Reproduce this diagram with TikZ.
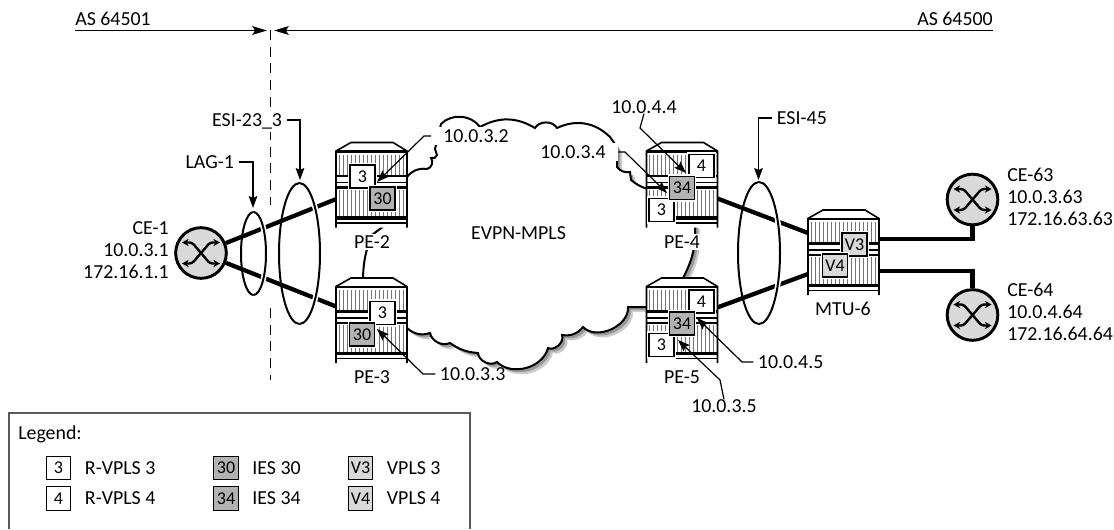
\documentclass[tikz,border=0pt]{standalone}
\usepackage{fontspec}
\setmainfont{Carlito}
\usepackage{tikz}
\usetikzlibrary{arrows.meta, positioning, calc, shapes.geometric}
\usepackage{xcolor}

\definecolor{iesgray}{gray}{0.70}
\definecolor{vplsgray}{gray}{0.85}

\tikzset{
  lbl/.style={font=\fontsize{14.9}{16.5}\selectfont, inner sep=0pt, text height=9.6pt, text depth=0pt},
  addr/.style={lbl, outer xsep=3.5pt},
  lblwhite/.style={lbl, fill=white, inner xsep=9pt, inner ysep=2pt},
  stack/.style={font=\fontsize{14.9}{16.5}\selectfont, inner sep=0pt},
  svcbox/.style={draw=black, line width=1.2pt, minimum width=18.5pt, minimum height=17.5pt, inner sep=0pt,
    font=\fontsize{13.5}{14}\selectfont, preaction={draw=white, line width=3pt}},
  keybox/.style={draw=black, line width=0.8pt, minimum width=18.5pt, minimum height=17.5pt, inner sep=0pt,
    font=\fontsize{13.5}{14}\selectfont},
  rvpls/.style={fill=white},
  ies/.style={fill=iesgray},
  vpls/.style={fill=vplsgray},
  link/.style={line width=3.2pt},
  leader/.style={line width=0.9pt, -{Stealth[length=9pt, width=6.5pt, inset=1.5pt]}},
  asline/.style={line width=1pt, -{Stealth[length=11pt, width=6.5pt, inset=2pt]}},
  ring/.style={ellipse, draw=black, line width=1.5pt, inner sep=0pt, outer sep=0pt},
  chassisbox/.style={rectangle, minimum width=53.25pt, minimum height=63.75pt, inner sep=0pt, outer sep=0pt},
  ce/.style={circle, draw=black, fill=vplsgray, line width=2.2pt, minimum size=38pt, inner sep=0pt},
  chassis/.pic={
    % local origin is the top left corner of the roof
    \fill[white] (0,8.5) -- (15,0) -- (57,0) -- (71,8.5) -- (71,85) -- (0,85) -- cycle;
    \foreach \hx in {3,7,...,69}
      \draw[black!55, line width=0.6pt] (\hx,12) -- (\hx,75);
    \fill[white] (0,32) rectangle (71,47);
    \draw[line width=1.2pt] (0,85) -- (0,8.5) -- (15,0) -- (57,0) -- (71,8.5) -- (71,85);
    \draw[line width=1.6pt] (0,9) -- (71,9);
    \draw[line width=2.2pt] (0,33.5) -- (71,33.5);
    \draw[line width=1.1pt] (0,40) -- (71,40);
    \draw[line width=1.8pt] (0,45) -- (71,45);
    \draw[line width=2.4pt] (0,75.5) -- (71,75.5);
    \draw[line width=1.1pt] (0,80.5) -- (71,80.5);
  },
  crossing/.pic={
    \draw[line width=1.8pt, rounded corners=2pt, {Stealth[length=5pt, width=5.5pt]}-{Stealth[length=5pt, width=5.5pt]}]
      (-19,-10.5) -- (-9,-10.5) -- (9,10.5) -- (19,10.5);
    \draw[line width=1.8pt, rounded corners=2pt, {Stealth[length=5pt, width=5.5pt]}-{Stealth[length=5pt, width=5.5pt]}]
      (-19,10.5) -- (-9,10.5) -- (9,-10.5) -- (19,-10.5);
  }
}

\newcommand{\cloudline}{
  (400,180) -- (407,177) to[bend left=30] (427,169) to[bend right=60] (431,158)
  to[bend right=50] (437,155) -- (435,149) -- (441,124)
  to[bend left=50] (480,127) to[bend left=30] (535,128) to[bend left=60] (557,128)
  to[bend left=35] (610,137) -- (617,147) -- (617,167) to[bend right=30] (630,172)
  -- (631,180) to[bend right=20] (660,190) -- (695,225)
  to[bend left=15] (683,278) -- (683,290) -- (647,307) -- (628,307)
  to[bend left=70] (583,327) to[bend left=30] (562,335) to[bend left=70] (548,348)
  to[bend left=60] (497,362) to[bend left=60] (478,353) to[bend left=15] (450,343)
  to[bend left=50] (430,333) to[bend left=30] (407,328) -- (395,320) -- (363,285)
  -- (363,278) to[bend left=10] (372,235) -- (385,225) -- cycle
}

\begin{document}
\begin{tikzpicture}[x=0.75pt, y=-0.75pt]
  \useasboundingbox (0,0) rectangle (1114,529);

  % Cloud
  \fill[black!20, shift={(5,5)}] \cloudline;
  \fill[black!40, shift={(3,3)}] \cloudline;
  \draw[fill=white, line width=1.5pt] \cloudline;
  \node[lbl] (evpn) at (518.5,233) {EVPN-MPLS};

  % AS border
  \coordinate (bordertop) at (270,30);
  \coordinate (bordermid) at (270,205);
  \coordinate (borderlow) at (270,308);
  \coordinate (borderend) at (270,380);
  \draw[line width=0.7pt, dash pattern=on 7.5pt off 5pt] (bordertop) -- (bordermid);
  \draw[line width=0.7pt, dash pattern=on 7.5pt off 5pt] (borderlow) -- (borderend);
  \node[lbl, anchor=west] (as501) at (75,19) {AS 64501};
  \node[lbl, anchor=east] (as500) at (993,19) {AS 64500};
  \coordinate (asleft) at (75,30.5);
  \coordinate (asright) at (993,30.5);
  \coordinate (astipl) at (267,30.5);
  \coordinate (astipr) at (274,30.5);
  \draw[asline] (asleft) -- (astipl);
  \draw[asline] (asright) -- (astipr);

  % Chassis
  \foreach \nm/\xx/\yy in {PE2/336/142.5, PE3/336/278, PE4/646.5/142.5, PE5/646.5/278, MTU6/808/210} {
    \node[chassisbox] (\nm) at (\xx+35.5,\yy+42.5) {};
  }

  % CE routers
  \node[ce] (CE1) at (201,253) {};
  \node[ce] (CE63) at (972.5,199.5) {};
  \node[ce] (CE64) at (972.5,315) {};

  % Rings
  \node[ring, minimum width=18.75pt, minimum height=62.25pt] (LAG1) at (253.5,253.5) {};
  \node[ring, minimum width=30.75pt, minimum height=105.75pt] (ESI233) at (299.5,253.5) {};
  \node[ring, minimum width=31.5pt, minimum height=106.5pt] (ESI45) at (759,253) {};

  % Links
  \coordinate (MTU6a) at (808,233);
  \coordinate (MTU6b) at (808,274);
  \coordinate (MTU6c) at (879,239);
  \coordinate (MTU6d) at (879,271);
  \draw[link] (CE1) -- (PE2);
  \draw[link] (CE1) -- (PE3);
  \draw[link] (PE4) -- (MTU6a);
  \draw[link] (PE5) -- (MTU6b);
  \draw[link] (MTU6c) -| (CE63);
  \draw[link] (MTU6d) -| (CE64);

  % Front of the rings
  \foreach \nm/\rx/\ry in {LAG1/9.375pt/31.125pt, ESI233/15.375pt/52.875pt, ESI45/15.75pt/53.25pt} {
    \draw[white, line width=4pt] (\nm.north) arc[start angle=90, end angle=-90, x radius=\rx, y radius=\ry];
    \draw[line width=1.5pt] (\nm.north) arc[start angle=90, end angle=-90, x radius=\rx, y radius=\ry];
  }

  % Chassis and crossings on top
  \foreach \xx/\yy in {336/142.5, 336/278, 646.5/142.5, 646.5/278, 808/210} {
    \pic at (\xx,\yy) {chassis};
  }
  \foreach \xx/\yy in {201/253, 972.5/199.5, 972.5/315} {
    \pic at (\xx,\yy) {crossing};
  }

  % Services
  \foreach \nm/\xx/\yy/\sty/\txt in {
    svcA/362.5/176.5/rvpls/3, svcB/382.5/198.5/ies/30,
    svcC/382.5/313/rvpls/3, svcD/362/334.5/ies/30,
    svcE/701.5/166/rvpls/4, svcF/661.5/210/rvpls/3, svcG/682/188/ies/34,
    svcH/701.5/301.5/rvpls/4, svcI/661.5/345/rvpls/3, svcJ/682/323.5/ies/34,
    svcK/854.5/244.5/vpls/V3, svcL/835/265.5/vpls/V4} {
    \node[svcbox, \sty] (\nm) at (\xx,\yy) {\txt};
  }

  % Names
  \node[lbl, fill=white, inner sep=1pt] (namePE2) at (372,242) {PE-2};
  \node[lbl] (namePE3) at (372,377) {PE-3};
  \node[lbl, fill=white, inner sep=1pt] (namePE4) at (682,242) {PE-4};
  \node[lbl] (namePE5) at (682,377) {PE-5};
  \node[lbl] (nameMTU) at (843,309) {MTU-6};
  \node[stack, anchor=east, align=right] (nameCE1) at (169,250) {CE-1\\10.0.3.1\\172.16.1.1};
  \node[stack, anchor=west, align=left] (nameCE63) at (1007,197) {CE-63\\10.0.3.63\\172.16.63.63};
  \node[stack, anchor=west, align=left] (nameCE64) at (1007,312) {CE-64\\10.0.4.64\\172.16.64.64};

  % Addresses
  \node[lblwhite, anchor=west] (ip32) at (431,136) {10.0.3.2};
  \node[lblwhite, anchor=east] (ip34) at (618,152) {10.0.3.4};
  \node[lbl, anchor=west] (ip44) at (611,107) {10.0.4.4};
  \node[addr, anchor=west] (ip33) at (435.3,374) {10.0.3.3};
  \node[lbl, anchor=west] (ip35) at (691,406) {10.0.3.5};
  \node[addr, anchor=west] (ip45) at (753.3,362) {10.0.4.5};
  \node[addr, anchor=east, fill=white, inner ysep=4pt] (esi233) at (286.7,120) {ESI-23\_3};
  \node[addr, anchor=east] (lag1) at (238.7,162) {LAG-1};
  \node[addr, anchor=west] (esi45) at (772.3,118) {ESI-45};

  \foreach \nm/\anc/\bx/\by/\tx/\ty in {
    ip32/west/424/136/377/182, ip34/east/625/152/667/193, ip44/south/640/128/686/173,
    ip33/west/423/374/377/329, ip35/north/720/380/678/340, ip45/west/742/362/697/318,
    esi233/east/300/120/300/180, lag1/east/253/162/253/208, esi45/west/758.5/118/758.5/180} {
    \coordinate (\nm tip) at (\tx,\ty);
    \draw[leader] (\nm.\anc) -- (\bx,\by) -- (\nm tip);
  }

  % Legend
  \coordinate (legsw) at (9,529);
  \coordinate (legnw) at (9,413);
  \coordinate (legne) at (470,413);
  \coordinate (legse) at (470,529);
  \draw[black!65, line width=0.9pt] (legsw) -- (legnw) -- (legne) -- (legse);
  \node[lbl, anchor=west] (legtitle) at (18,433) {Legend:};
  \foreach \nm/\xx/\yy/\sty/\txt/\lab in {
    keyA/58.5/468/rvpls/3/R-VPLS 3, keyB/58.5/498.5/rvpls/4/R-VPLS 4,
    keyC/226/468/ies/30/IES 30, keyD/226/498.5/ies/34/IES 34,
    keyE/360.5/468/vpls/V3/VPLS 3, keyF/360.5/498.5/vpls/V4/VPLS 4} {
    \node[keybox, \sty] (\nm) at (\xx,\yy) {\txt};
    \node[lbl, right=10pt of \nm] (\nm txt) {\lab};
  }
\end{tikzpicture}
\end{document}
